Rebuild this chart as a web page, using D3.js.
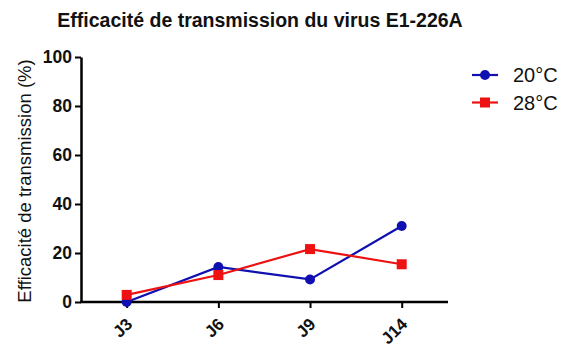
<!DOCTYPE html>
<html>
<head>
<meta charset="utf-8">
<script src="https://cdn.jsdelivr.net/npm/d3@7"></script>
<style>
  html, body { margin: 0; padding: 0; background: #fff; }
  svg { display: block; font-family: "Liberation Sans", Arial, sans-serif; }
</style>
</head>
<body>
<svg id="chart" width="569" height="347"></svg>
<script>
// Transmission efficiency of E1-226A virus by day and temperature
const days = ["J3", "J6", "J9", "J14"];
const temp20 = [0, 14.3, 9.2, 31.0];
const temp28 = [2.9, 11.0, 21.6, 15.4];
const yTicks = [0, 20, 40, 60, 80, 100];
const seriesNames = ["20°C", "28°C"];
const seriesColors = ["#1010b0", "#ee1111"];

const svg = d3.select("#chart");
const axisLeftX = 81;
const axisRightX = 448;

const x = d3.scalePoint()
  .domain(days)
  .range([126.7, 401.7]);

const y = d3.scaleLinear()
  .domain([0, 100])
  .range([302, 57]);

// Title
svg.append("text")
  .attr("x", 260)
  .attr("y", 27)
  .attr("text-anchor", "middle")
  .attr("font-weight", "bold")
  .attr("font-size", 19.5)
  .attr("fill", "#111")
  .text("Efficacité de transmission du virus E1-226A");

// Y axis
const yAxis = svg.append("g")
  .attr("transform", `translate(${axisLeftX},0)`)
  .call(d3.axisLeft(y).tickValues(yTicks).tickSize(6).tickPadding(3).tickSizeOuter(0));
yAxis.select(".domain").attr("stroke", "#000").attr("stroke-width", 2.5);
yAxis.selectAll(".tick line").attr("stroke", "#000").attr("stroke-width", 2);
yAxis.selectAll(".tick text")
  .attr("font-size", 17.5)
  .attr("font-weight", "bold")
  .attr("fill", "#111")
  .attr("font-family", "Liberation Sans, Arial, sans-serif");

// X axis
const xAxis = svg.append("g")
  .attr("transform", `translate(0,${y(0)})`)
  .call(d3.axisBottom(x).tickSize(6).tickSizeOuter(0));
xAxis.select(".domain")
  .attr("d", `M${axisLeftX - 1},0H${axisRightX}`)
  .attr("stroke", "#000").attr("stroke-width", 2.5);
xAxis.selectAll(".tick line").attr("stroke", "#000").attr("stroke-width", 2);
xAxis.selectAll(".tick text")
  .attr("font-size", 17)
  .attr("font-weight", "bold")
  .attr("fill", "#111")
  .attr("font-family", "Liberation Sans, Arial, sans-serif")
  .attr("text-anchor", "end")
  .attr("y", 0)
  .attr("dy", "0.35em")
  .attr("transform", "translate(2,19) rotate(-45)");

// Y axis label
svg.append("text")
  .attr("transform", `translate(25,181) rotate(-90)`)
  .attr("text-anchor", "middle")
  .attr("dy", "0.35em")
  .attr("font-size", 18.5)
  .attr("fill", "#111")
  .text("Efficacité de transmission (%)");

const line = d3.line()
  .x((d, i) => x(days[i]))
  .y(d => y(d));

const plot = svg.append("g");

// 20°C series: circles
plot.append("path")
  .datum(temp20)
  .attr("d", line)
  .attr("fill", "none")
  .attr("stroke", seriesColors[0])
  .attr("stroke-width", 2.2);
plot.selectAll("circle.s20")
  .data(temp20)
  .join("circle")
  .attr("class", "s20")
  .attr("cx", (d, i) => x(days[i]))
  .attr("cy", d => y(d))
  .attr("r", 5)
  .attr("fill", seriesColors[0]);

// 28°C series: squares
plot.append("path")
  .datum(temp28)
  .attr("d", line)
  .attr("fill", "none")
  .attr("stroke", seriesColors[1])
  .attr("stroke-width", 2.2);
plot.selectAll("rect.s28")
  .data(temp28)
  .join("rect")
  .attr("class", "s28")
  .attr("x", (d, i) => x(days[i]) - 5)
  .attr("y", d => y(d) - 5)
  .attr("width", 10)
  .attr("height", 10)
  .attr("fill", seriesColors[1]);

// Legend
const legend = svg.append("g");
seriesNames.forEach((name, i) => {
  const ly = 75 + i * 27.5;
  const g = legend.append("g").attr("transform", `translate(472,${ly})`);
  g.append("line")
    .attr("x1", 0).attr("x2", 26)
    .attr("stroke", seriesColors[i]).attr("stroke-width", 2.2);
  if (i === 0) {
    g.append("circle").attr("cx", 13).attr("cy", 0).attr("r", 5).attr("fill", seriesColors[i]);
  } else {
    g.append("rect").attr("x", 8).attr("y", -5).attr("width", 10).attr("height", 10).attr("fill", seriesColors[i]);
  }
  g.append("text")
    .attr("x", 41)
    .attr("y", 0)
    .attr("dy", "0.35em")
    .attr("font-size", 20)
    .attr("fill", "#111")
    .text(name);
});
</script>
</body>
</html>
